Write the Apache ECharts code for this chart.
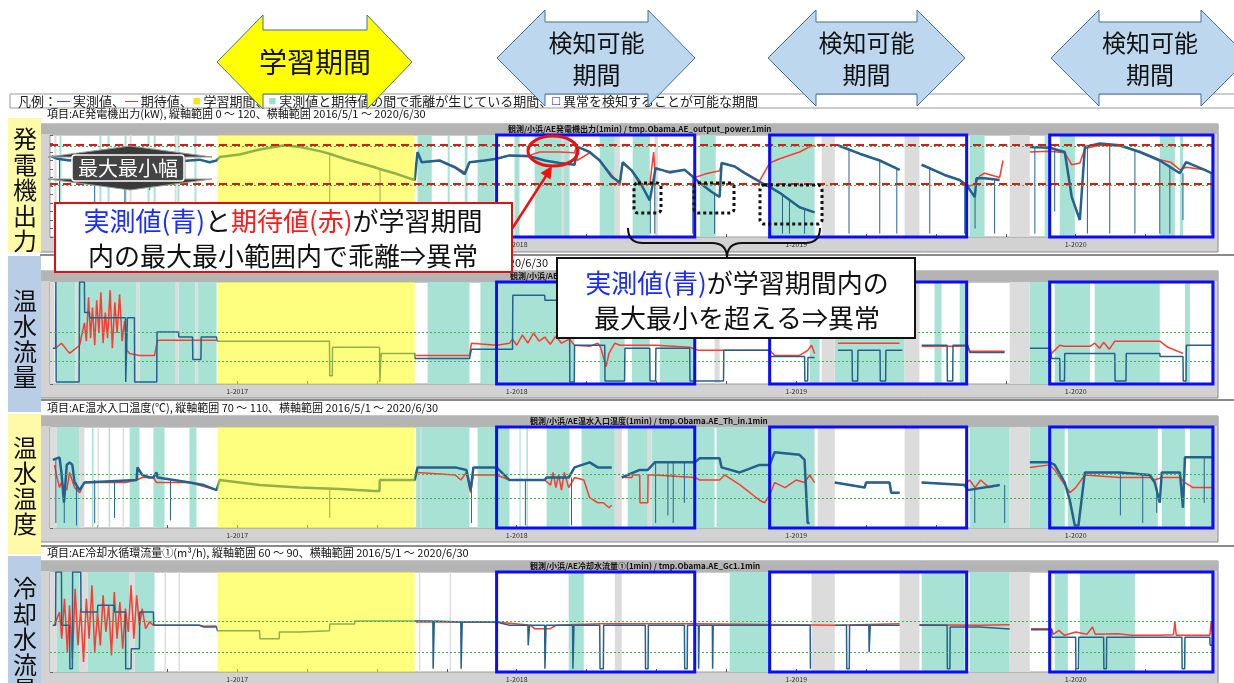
<!DOCTYPE html>
<html>
<head>
<meta charset="UTF-8">
<title>AE 異常検知</title>
<script src="https://cdn.jsdelivr.net/npm/echarts@6.0.0/dist/echarts.min.js"></script>
<style>
  html, body { margin: 0; padding: 0; background: #fff; }
  #chart { width: 1234px; height: 683px; }
</style>
</head>
<body>
<div id="chart"></div>
<script>
// x axis is in decimal years (2016/5/1 .. 2020/6/30)
var xMin = 2016.33, xMax = 2020.495;
var yearLabels = [2017, 2018, 2019, 2020];
var quarterTicks = [2016.5, 2016.75, 2017, 2017.25, 2017.5, 2017.75, 2018, 2018.25, 2018.5, 2018.75, 2019, 2019.25, 2019.5, 2019.75, 2020, 2020.25];
var learnPeriod = [2016.929, 2017.635];
var detectPeriods = [[2017.928, 2018.637], [2018.905, 2019.610], [2019.907, 2020.491]];

// ---- 発電機出力 (kW) 0-120
var powerActual = [
  [2016.335, 95], [2016.357, 92], [2016.400, 90], [2016.453, 93], [2016.489, 90], [2016.507, 91], [2016.579, 92], [2016.597, 90], [2016.650, 88], [2016.686, 89], [2016.722, 90], [2016.794, 89], [2016.865, 91], [2016.901, 88], [2016.926, 90],
  [2016.937, 94], [2017.008, 97], [2017.080, 103], [2017.169, 108], [2017.223, 106], [2017.295, 101], [2017.330, 98], [2017.384, 92], [2017.438, 87], [2017.492, 82], [2017.510, 80], [2017.563, 75], [2017.617, 69], [2017.635, 67],
  [2017.645, 100], [2017.660, 88], [2017.724, 90], [2017.778, 82], [2017.814, 74], [2017.831, 88], [2017.885, 90], [2017.928, 92], [2017.974, 96], [2018.046, 95], [2018.100, 90], [2018.153, 87], [2018.207, 85], [2018.218, 106], [2018.261, 100], [2018.297, 90], [2018.340, 71], [2018.369, 64], [2018.379, 88], [2018.412, 78], [2018.440, 65], [2018.476, 43], [2018.497, 81], [2018.547, 76], [2018.601, 79], [2018.637, 69], [2018.673, 59], [2018.698, 53], [2018.726, 47], [2018.733, 87], [2018.780, 83], [2018.816, 75], [2018.869, 65], [2018.905, 59], [2018.941, 52], [2019.012, 35], [2019.066, 29], [2019.077, '-'],
  [2019.149, 108], [2019.227, 98], [2019.299, 90], [2019.370, 79], [2019.380, '-'],
  [2019.449, 85], [2019.531, 73], [2019.585, 67], [2019.614, 59], [2019.639, 47], [2019.645, 69], [2019.674, 69], [2019.728, 67], [2019.746, '-'],
  [2019.836, 106], [2019.907, 105], [2019.961, 100], [2019.986, 47], [2020.015, 20], [2020.033, 106], [2020.086, 110], [2020.157, 108], [2020.229, 100], [2020.301, 90], [2020.373, 75], [2020.395, 88], [2020.462, 79], [2020.487, 75]
];
// thin vertical drops: [year, from, to]
var powerDrops = [
  [2016.364, 92, 6], [2016.490, 90, 10], [2016.598, 90, 30], [2016.687, 89, 55], [2017.331, 98, 4], [2017.511, 80, 40],
  [2018.478, 43, 4], [2018.494, 81, 4], [2018.630, 70, 4], [2018.708, 52, 4], [2018.951, 50, 4], [2018.976, 45, 4], [2019.030, 33, 4], [2019.189, 103, 4], [2019.299, 90, 4], [2019.360, 80, 4], [2019.478, 80, 4], [2019.603, 62, 4], [2019.640, 47, 10], [2019.710, 68, 4], [2019.854, 106, 4], [2019.925, 103, 30], [2020.042, 107, 4], [2020.122, 109, 4], [2020.212, 102, 4], [2020.301, 90, 4], [2020.337, 84, 4], [2020.384, 75, 20], [2020.484, 76, 4]
];
var powerExpected = [
  [2017.645, 99], [2017.660, 88], [2017.724, 90], [2017.778, 83], [2017.814, 76], [2017.831, 88], [2017.885, 90], [2017.928, 92], [2017.974, 96], [2018.046, 96], [2018.082, 100], [2018.153, 100], [2018.207, 99], [2018.214, 108], [2018.216, 90], [2018.261, 99], [2018.297, 90], [2018.340, 73], [2018.369, 61], [2018.379, 86], [2018.412, 78], [2018.440, 62], [2018.476, 62], [2018.490, 100], [2018.494, 80], [2018.547, 77], [2018.601, 79], [2018.637, 70], [2018.673, 74], [2018.698, 76], [2018.726, 78], [2018.733, 87], [2018.780, 83], [2018.816, 76], [2018.869, 66], [2018.905, 87], [2018.941, 92], [2019.012, 100], [2019.048, 106], [2019.066, 108], [2019.077, '-'],
  [2019.149, 107], [2019.227, 98], [2019.299, 90], [2019.370, 79], [2019.380, '-'],
  [2019.449, 85], [2019.531, 73], [2019.585, 67], [2019.621, 60], [2019.639, 62], [2019.657, 72], [2019.674, 75], [2019.728, 70], [2019.740, 90], [2019.746, '-'],
  [2019.836, 100], [2019.907, 101], [2019.961, 99], [2019.986, 85], [2020.015, 87], [2020.033, 104], [2020.086, 108], [2020.157, 107], [2020.229, 101], [2020.301, 91], [2020.340, 88], [2020.373, 79], [2020.395, 82], [2020.462, 79], [2020.487, 75]
];
var powerGreen = [[2016.364, 2016.371], [2016.507, 2016.514], [2016.536, 2016.543], [2016.597, 2016.604], [2016.679, 2016.686], [2016.701, 2016.708], [2016.786, 2016.793], [2016.847, 2016.854], [2017.645, 2017.696], [2017.753, 2017.760], [2017.814, 2017.824], [2017.860, 2017.921], [2017.992, 2018.010], [2018.064, 2018.189], [2018.297, 2018.351], [2018.415, 2018.476], [2018.655, 2018.712], [2018.905, 2019.066], [2019.621, 2019.674], [2019.889, 2019.907], [2019.943, 2019.997], [2020.301, 2020.355], [2020.373, 2020.384]];
var powerGray = [[2016.346, 2016.353], [2016.615, 2016.622], [2016.776, 2016.783], [2018.160, 2018.170], [2018.351, 2018.369], [2018.494, 2018.505], [2019.091, 2019.138], [2019.388, 2019.441], [2019.764, 2019.836]];
var powerLimits = [109, 62.5];
var powerGreenLines = [106.5, 61];

// ---- 温水流量
var flowActual = [
  [2016.340, 35], [2016.350, 35], [2016.351, 100], [2016.352, 2], [2016.434, 2], [2016.436, 100], [2016.453, 100], [2016.454, 70], [2016.471, 70], [2016.472, 65], [2016.600, 65], [2016.601, 2], [2016.606, 2], [2016.607, 65], [2016.632, 65], [2016.633, 2], [2016.712, 2], [2016.713, 51], [2016.790, 51], [2016.791, 46], [2016.840, 46], [2016.841, 24], [2016.870, 24], [2016.871, 46], [2016.926, 46],
  [2016.929, 42], [2017.330, 42], [2017.331, 8], [2017.340, 8], [2017.341, 36], [2017.509, 36], [2017.510, 2], [2017.514, 2], [2017.515, 30], [2017.635, 30],
  [2017.636, 25], [2017.831, 25], [2017.838, 34], [2017.985, 34], [2017.986, 87], [2018.100, 87], [2018.101, 82], [2018.189, 82], [2018.190, 2], [2018.206, 2], [2018.207, 38], [2018.315, 38], [2018.316, 3], [2018.386, 3], [2018.387, 35], [2018.476, 35], [2018.477, 3], [2018.497, 3], [2018.498, 35], [2018.619, 35], [2018.620, 3], [2018.740, 3], [2018.741, 33], [2018.905, 33], [2018.906, 27], [2019.030, 27], [2019.031, 3], [2019.041, 3], [2019.042, 26], [2019.066, 26], [2019.077, '-'],
  [2019.149, 33], [2019.200, 33], [2019.201, 3], [2019.220, 3], [2019.221, 33], [2019.300, 33], [2019.301, 3], [2019.320, 3], [2019.321, 33], [2019.380, 33], [2019.388, '-'],
  [2019.449, 38], [2019.540, 38], [2019.541, 3], [2019.560, 3], [2019.561, 38], [2019.614, 38], [2019.621, 31], [2019.746, 31], [2019.764, '-'],
  [2019.836, 35], [2019.910, 35], [2019.914, 25], [2019.943, 25], [2019.944, 3], [2019.960, 3], [2019.961, 30], [2020.140, 30], [2020.141, 3], [2020.180, 3], [2020.181, 30], [2020.301, 30], [2020.302, 27], [2020.384, 27], [2020.385, 3], [2020.395, 3], [2020.396, 38], [2020.490, 38]
];
var flowExpected = [
  [2016.350, 35], [2016.371, 40], [2016.400, 30], [2016.436, 38], [2016.453, 60], [2016.460, 42], [2016.468, 85], [2016.475, 45], [2016.482, 75], [2016.490, 38], [2016.497, 82], [2016.505, 50], [2016.512, 90], [2016.520, 40], [2016.528, 70], [2016.536, 45], [2016.545, 92], [2016.553, 35], [2016.562, 80], [2016.570, 50], [2016.579, 88], [2016.588, 42], [2016.597, 62], [2016.605, 33], [2016.615, 30], [2016.650, 28], [2016.704, 28], [2016.715, 43], [2016.926, 43], [2016.927, '-'],
  [2017.640, 28], [2017.831, 28], [2017.838, 40], [2017.928, 38], [2017.974, 40], [2017.985, 44], [2018.000, 38], [2018.020, 48], [2018.040, 40], [2018.060, 50], [2018.080, 42], [2018.100, 46], [2018.120, 39], [2018.140, 47], [2018.160, 40], [2018.189, 44], [2018.207, 38], [2018.261, 37], [2018.290, 40], [2018.300, 36], [2018.320, 17], [2018.330, 30], [2018.351, 40], [2018.370, 38], [2018.440, 38], [2018.500, 38], [2018.619, 36], [2018.650, 33], [2018.905, 33], [2018.923, 28], [2019.012, 28], [2019.041, 33], [2019.055, 38], [2019.066, 30], [2019.077, '-'],
  [2019.149, 40], [2019.370, 40], [2019.380, '-'],
  [2019.449, 37], [2019.614, 37], [2019.621, 32], [2019.746, 32], [2019.764, '-'],
  [2019.914, 30], [2019.943, 38], [2019.960, 37], [2020.051, 37], [2020.068, 40], [2020.086, 35], [2020.100, 41], [2020.120, 34], [2020.140, 42], [2020.301, 42], [2020.330, 36], [2020.384, 30]
];
var flowGreen = [[2016.353, 2016.420], [2016.430, 2016.640], [2016.650, 2016.780], [2016.790, 2016.850], [2016.860, 2016.926], [2017.681, 2017.831], [2017.870, 2017.928], [2017.935, 2018.207], [2018.297, 2018.386], [2018.412, 2018.476], [2018.512, 2018.637], [2019.048, 2019.084], [2019.138, 2019.388], [2019.495, 2019.520], [2019.585, 2019.610], [2019.836, 2019.907], [2019.925, 2020.051], [2020.068, 2020.301], [2020.391, 2020.409]];
var flowGray = [[2016.328, 2016.346], [2016.420, 2016.430], [2016.640, 2016.650], [2016.780, 2016.790], [2016.850, 2016.860], [2018.708, 2018.726], [2019.091, 2019.138], [2019.388, 2019.441], [2019.764, 2019.836]];
var flowGreenLines = [51, 22];

// ---- 温水入口温度 (℃) 70-110
var tempActual = [
  [2016.340, 97], [2016.364, 98], [2016.371, 92], [2016.380, 80], [2016.390, 95], [2016.400, 96], [2016.410, 95], [2016.418, 88], [2016.436, 85], [2016.453, 88], [2016.640, 89], [2016.643, 94], [2016.660, 91], [2016.686, 90], [2016.700, 90], [2016.711, 92], [2016.715, 90], [2016.830, 88], [2016.880, 87], [2016.926, 85],
  [2016.937, 89], [2017.080, 87], [2017.223, 86], [2017.367, 85.4], [2017.492, 84.7], [2017.509, 84.7], [2017.510, 89], [2017.635, 89],
  [2017.645, 94], [2017.780, 94], [2017.820, 93], [2017.835, 85], [2017.845, 94], [2017.928, 94], [2017.974, 89], [2018.100, 89], [2018.107, 90], [2018.186, 90], [2018.207, 94], [2018.261, 96], [2018.290, 94], [2018.340, 94], [2018.351, '-'],
  [2018.376, 90], [2018.440, 93], [2018.469, 93], [2018.494, 96], [2018.637, 96], [2018.655, 97.6], [2018.726, 97.6], [2018.733, 94], [2018.798, 92], [2018.869, 95], [2018.905, 95], [2018.923, 100], [2019.012, 99], [2019.030, 97], [2019.041, 72], [2019.048, 72], [2019.077, '-'],
  [2019.138, 88], [2019.245, 86], [2019.250, 88], [2019.334, 88], [2019.340, 84], [2019.370, 84], [2019.388, '-'],
  [2019.449, 88], [2019.603, 87], [2019.614, 85], [2019.728, 87], [2019.746, '-'],
  [2019.836, 96], [2019.907, 96], [2019.925, 95], [2019.961, 88], [2019.979, 81], [2019.997, 71], [2020.010, 71], [2020.033, 92], [2020.158, 92], [2020.265, 91], [2020.283, 88], [2020.301, 80], [2020.308, 92], [2020.373, 92], [2020.384, 78], [2020.391, 98], [2020.491, 98]
];
var tempDrops = [
  [2016.351, 97, 72], [2016.381, 80, 72], [2016.425, 88, 71], [2016.490, 89, 72], [2016.561, 89, 74], [2016.761, 89, 73], [2017.331, 86, 74], [2017.838, 88, 72], [2018.031, 89, 71], [2018.196, 90, 71], [2018.497, 96, 72], [2018.541, 96, 75], [2018.560, 96, 72], [2018.600, 96, 80], [2019.639, 86, 72], [2019.746, 87, 72], [2020.160, 92, 75], [2020.240, 91, 72], [2020.290, 86, 76], [2020.460, 98, 80]
];
var tempExpected = [
  [2016.346, 95], [2016.353, 91], [2016.364, 86], [2016.371, 88], [2016.390, 85], [2016.400, 92], [2016.418, 86], [2016.436, 84], [2016.453, 88], [2016.600, 88], [2016.640, 89], [2016.660, 90], [2016.700, 90], [2016.711, 88], [2016.830, 88], [2016.926, 85], [2016.927, '-'],
  [2017.645, 92], [2017.780, 91], [2017.800, 89], [2017.820, 92], [2017.835, 84], [2017.845, 91], [2017.928, 91], [2017.974, 89], [2018.100, 89], [2018.121, 87], [2018.130, 92], [2018.140, 86], [2018.150, 91], [2018.160, 85], [2018.170, 92], [2018.186, 86], [2018.207, 90], [2018.240, 89], [2018.261, 82], [2018.290, 80], [2018.310, 80], [2018.330, 78], [2018.340, 79], [2018.351, '-'],
  [2018.386, 90], [2018.412, 90], [2018.415, 91], [2018.440, 91], [2018.441, 80], [2018.469, 80], [2018.470, 91], [2018.494, 91], [2018.637, 90], [2018.655, 89], [2018.726, 89], [2018.744, 91], [2018.800, 87], [2018.869, 81], [2018.887, 80], [2018.905, 83], [2018.923, 88], [2018.960, 86], [2019.000, 89], [2019.030, 88], [2019.048, 91], [2019.066, 88], [2019.077, '-'],
  [2019.138, 88], [2019.245, 86], [2019.250, 88], [2019.334, 88], [2019.340, 84], [2019.370, 84], [2019.388, '-'],
  [2019.449, 88], [2019.603, 87], [2019.620, 89], [2019.640, 86], [2019.660, 89], [2019.690, 86], [2019.728, 87], [2019.746, '-'],
  [2019.836, 94], [2019.907, 95], [2019.925, 93], [2019.961, 87], [2019.980, 84], [2020.000, 86], [2020.033, 91], [2020.158, 90], [2020.265, 90], [2020.283, 89], [2020.308, 90], [2020.373, 90], [2020.391, 88], [2020.420, 86], [2020.491, 86]
];
var tempGreen = [[2016.353, 2016.436], [2016.480, 2016.486], [2016.540, 2016.545], [2016.615, 2016.650], [2016.700, 2016.740], [2016.829, 2016.854], [2017.640, 2017.831], [2017.860, 2017.974], [2018.010, 2018.014], [2018.035, 2018.040], [2018.107, 2018.189], [2018.232, 2018.351], [2018.397, 2018.469], [2018.483, 2018.708], [2018.715, 2019.066], [2019.621, 2019.764], [2019.836, 2019.961], [2019.972, 2020.294], [2020.308, 2020.391], [2020.409, 2020.491]];
var tempGray = [[2016.328, 2016.353], [2016.436, 2016.453], [2016.500, 2016.505], [2016.590, 2016.595], [2017.655, 2017.660], [2018.351, 2018.376], [2018.469, 2018.483], [2019.077, 2019.138], [2019.388, 2019.441], [2019.764, 2019.836]];
var tempGreenLines = [91.4, 81.9];

// ---- 冷却水循環流量① (m3/h) 60-90
var coolActual = [
  [2016.340, 74], [2016.350, 74], [2016.351, 90], [2016.371, 90], [2016.372, 74], [2016.400, 74], [2016.401, 61], [2016.410, 61], [2016.411, 90], [2016.440, 90], [2016.441, 78], [2016.500, 78], [2016.501, 80], [2016.560, 80], [2016.561, 78], [2016.600, 78], [2016.601, 61], [2016.620, 61], [2016.621, 67], [2016.650, 67], [2016.651, 78], [2016.700, 78], [2016.701, 74], [2016.865, 74], [2016.880, 73.5], [2016.926, 73.5],
  [2016.929, 72.4], [2017.080, 72.4], [2017.081, 70], [2017.150, 70], [2017.151, 72], [2017.223, 72], [2017.224, 72.4], [2017.330, 72.4], [2017.331, 74.4], [2017.420, 74.4], [2017.421, 75.3], [2017.635, 75.3],
  [2017.640, 75.3], [2017.700, 75.3], [2017.701, 61], [2017.705, 75.3], [2017.800, 75], [2017.801, 61], [2017.805, 75], [2017.928, 75], [2017.974, 74], [2018.040, 74], [2018.041, 68], [2018.046, 74], [2018.100, 74], [2018.101, 61], [2018.105, 74], [2018.200, 74], [2018.201, 61], [2018.205, 74], [2018.297, 74], [2018.298, 61], [2018.310, 61], [2018.311, 74], [2018.460, 74], [2018.461, 61], [2018.470, 61], [2018.471, 74], [2018.600, 74], [2018.601, 61], [2018.610, 61], [2018.611, 74], [2018.650, 74], [2018.651, 61], [2018.653, 74], [2018.700, 74], [2018.701, 61], [2018.703, 74], [2019.050, 74], [2019.051, 61], [2019.084, '-'],
  [2019.140, 74], [2019.180, 74], [2019.181, 61], [2019.190, 61], [2019.191, 74], [2019.260, 74], [2019.261, 66], [2019.265, 74], [2019.370, 74], [2019.388, '-'],
  [2019.441, 74], [2019.540, 74], [2019.541, 61], [2019.550, 61], [2019.551, 73.5], [2019.657, 73.5], [2019.658, 72.9], [2019.764, 72.9], [2019.765, '-'],
  [2019.840, 72.7], [2019.914, 72.7], [2019.915, 70.4], [2020.000, 70.4], [2020.001, 61], [2020.010, 61], [2020.011, 70.4], [2020.100, 70.4], [2020.101, 61], [2020.110, 61], [2020.111, 70.4], [2020.380, 70.4], [2020.381, 61], [2020.390, 61], [2020.391, 70.4], [2020.480, 70.4], [2020.481, 68], [2020.491, 68]
];
var coolExpected = [
  [2016.346, 74], [2016.364, 78], [2016.372, 70], [2016.382, 82], [2016.392, 66], [2016.400, 80], [2016.410, 64], [2016.420, 85], [2016.430, 68], [2016.440, 79], [2016.450, 63], [2016.460, 82], [2016.470, 70], [2016.480, 86], [2016.490, 66], [2016.500, 78], [2016.510, 68], [2016.520, 83], [2016.530, 72], [2016.540, 80], [2016.550, 65], [2016.560, 84], [2016.570, 70], [2016.580, 81], [2016.590, 67], [2016.600, 79], [2016.610, 72], [2016.620, 86], [2016.630, 70], [2016.640, 83], [2016.650, 74], [2016.660, 79], [2016.672, 73], [2016.686, 75], [2016.700, 74], [2016.865, 74], [2016.880, 73.7], [2016.926, 73.8], [2016.927, '-'],
  [2017.640, 75], [2017.928, 75], [2018.050, 74], [2018.064, 73], [2018.120, 73], [2018.140, 74], [2018.300, 74.5], [2018.637, 74.5], [2019.149, 74], [2019.370, 74.5], [2019.388, '-'],
  [2019.441, 74.2], [2019.657, 74], [2019.764, 74.2], [2019.765, '-'],
  [2019.840, 73], [2019.914, 73], [2019.920, 71.3], [2019.940, 72.5], [2019.960, 71], [2020.000, 72], [2020.040, 71.3], [2020.060, 73.5], [2020.070, 71.3], [2020.150, 71.5], [2020.200, 71], [2020.300, 71], [2020.350, 71.2], [2020.355, 75], [2020.360, 71], [2020.480, 71], [2020.485, 75], [2020.491, 71]
];
var coolGreen = [[2016.353, 2016.436], [2016.464, 2016.615], [2016.632, 2016.704], [2018.186, 2018.240], [2018.762, 2018.905], [2019.449, 2019.603], [2019.621, 2019.764], [2019.925, 2019.972], [2020.015, 2020.212]];
var coolGray = [[2016.328, 2016.353], [2016.436, 2016.464], [2016.615, 2016.632], [2016.740, 2016.745], [2016.790, 2016.795], [2017.650, 2017.655], [2017.760, 2017.765], [2018.351, 2018.376], [2019.055, 2019.138], [2019.370, 2019.441], [2019.764, 2019.836]];
var coolGreenLines = [75.3, 65.8];

var GREEN = '#a8e2d4', GRAY = '#dcdcdc', BLUE = '#24628e', RED = '#ff3a2e';
var JP = '"Noto Sans CJK JP", sans-serif';

var panels = [
  { top: 135, height: 102, min: 0, max: 120, actual: powerActual, drops: powerDrops, expected: powerExpected, green: powerGreen, gray: powerGray, redLines: powerLimits, greenLines: powerGreenLines, lw: 2.5 },
  { top: 282, height: 102, min: 0, max: 100, actual: flowActual, drops: [], expected: flowExpected, green: flowGreen, gray: flowGray, redLines: [], greenLines: flowGreenLines, lw: 1.5 },
  { top: 427, height: 101, min: 70, max: 110, actual: tempActual, drops: tempDrops, expected: tempExpected, green: tempGreen, gray: tempGray, redLines: [], greenLines: tempGreenLines, lw: 2.5 },
  { top: 572, height: 104, min: 60, max: 90, actual: coolActual, drops: [], expected: coolExpected, green: coolGreen, gray: coolGray, redLines: [], greenLines: coolGreenLines, lw: 1.5 }
];

function bandItems(list, color) {
  return list.map(function (b) { return [{ xAxis: b[0], itemStyle: { color: color } }, { xAxis: b[1] }]; });
}
function dropData(list) {
  var out = [];
  list.forEach(function (d) { out.push([d[0], d[1]], [d[0], d[2]], [d[0], '-']); });
  return out;
}

var grids = [], xAxes = [], yAxes = [], series = [];
panels.forEach(function (p, i) {
  grids.push({ left: 50, right: 20, top: p.top, height: p.height, show: true, backgroundColor: '#fff', borderColor: '#9a9a9a', borderWidth: 1 });
  xAxes.push({
    type: 'value', gridIndex: i, min: xMin, max: xMax,
    axisLine: { show: false }, splitLine: { show: false },
    axisTick: { show: true, inside: true, length: 3, customValues: quarterTicks, lineStyle: { color: '#555' } },
    axisLabel: { customValues: yearLabels, formatter: function (v) { return '1-' + Math.round(v); }, fontSize: 7, color: '#333', margin: 4 }
  });
  yAxes.push({
    type: 'value', gridIndex: i, min: p.min, max: p.max, splitNumber: 10,
    axisLine: { show: false }, axisLabel: { show: false }, splitLine: { show: false },
    axisTick: { show: true, inside: true, length: 3, lineStyle: { color: '#666' } }
  });
  series.push({
    type: 'line', xAxisIndex: i, yAxisIndex: i, data: [], silent: true,
    markArea: { z: 1, silent: true, data: bandItems(p.green, GREEN).concat(bandItems(p.gray, GRAY)) }
  });
  series.push({
    name: '期待値', type: 'line', xAxisIndex: i, yAxisIndex: i, data: p.expected, z: 2,
    showSymbol: false, lineStyle: { color: RED, width: 1.5 }
  });
  series.push({
    name: '実測値', type: 'line', xAxisIndex: i, yAxisIndex: i, data: p.actual, z: 3,
    showSymbol: false, lineStyle: { color: BLUE, width: p.lw }
  });
  series.push({
    type: 'line', xAxisIndex: i, yAxisIndex: i, data: dropData(p.drops), z: 3,
    showSymbol: false, silent: true, lineStyle: { color: BLUE, width: 1 }
  });
  series.push({
    type: 'line', xAxisIndex: i, yAxisIndex: i, data: [], silent: true,
    markArea: { z: 6, silent: true, data: [[{ xAxis: learnPeriod[0], itemStyle: { color: 'rgba(255,255,0,0.5)' } }, { xAxis: learnPeriod[1] }]] }
  });
  var lines = p.greenLines.map(function (v) {
    return { yAxis: v, lineStyle: { color: '#3fb34f', type: [2, 2], width: 1 } };
  }).concat(p.redLines.map(function (v) {
    return { yAxis: v, lineStyle: { color: '#d81b1b', type: [8, 5], width: 2 } };
  }));
  series.push({
    type: 'line', xAxisIndex: i, yAxisIndex: i, data: [], silent: true,
    markLine: { z: 7, silent: true, symbol: 'none', label: { show: false }, data: lines },
    markArea: { z: 8, silent: true, data: detectPeriods.map(function (d) {
      return [{ xAxis: d[0], itemStyle: { color: 'rgba(0,0,0,0)', borderColor: '#0b0bff', borderWidth: 3 } }, { xAxis: d[1] }];
    }) }
  });
});

// ---- page furniture
var g = [];
function txt(x, y, s, size, opt) {
  var st = { x: x, y: y, text: s, fontSize: size, fontFamily: JP, fill: '#111', align: 'left', verticalAlign: 'middle' };
  for (var k in (opt || {})) st[k] = opt[k];
  return { type: 'text', z: 20, style: st };
}

// legend row
g.push({ type: 'rect', z: 10, shape: { x: 10, y: 94, width: 1240, height: 14 }, style: { fill: '#fff', stroke: '#999', lineWidth: 1 } });
g.push(txt(18, 101, '凡例：{b|—} 実測値、{r|—} 期待値、{y|■} 学習期間、{g|■} 実測値と期待値の間で乖離が生じている期間、{bx|□} 異常を検知することが可能な期間', 13, {
  fill: '#222',
  rich: { b: { fill: '#2040c0', fontSize: 13 }, r: { fill: '#e02020', fontSize: 13 }, y: { fill: '#f5e600', fontSize: 13 }, g: { fill: '#9fe0c8', fontSize: 13 }, bx: { fill: '#0000ee', fontSize: 13, fontWeight: 'bold' } }
}));

// side labels
var sideBoxes = [
  { y: 118, h: 134, c: '#fffaa8', t: '発\n電\n機\n出\n力', cy: 190 },
  { y: 256, h: 156, c: '#b9cde6', t: '温\n水\n流\n量', cy: 339 },
  { y: 414, h: 140, c: '#fffaa8', t: '温\n水\n温\n度', cy: 486 },
  { y: 556, h: 140, c: '#b9cde6', t: '冷\n却\n水\n流\n量', cy: 639 }
];
sideBoxes.forEach(function (b) {
  g.push({ type: 'rect', z: 10, shape: { x: 8, y: b.y, width: 33, height: b.h }, style: { fill: b.c } });
  g.push({ type: 'text', z: 11, style: { x: 25, y: b.cy, text: b.t, fontSize: 24, lineHeight: 25.5, fontFamily: JP, fill: '#111', align: 'center', verticalAlign: 'middle' } });
});

// panel frames
var frames = [
  { top: 124, bottom: 252, title: '観測/小浜/AE発電機出力(1min) / tmp.Obama.AE_output_power.1min', tx: 508 },
  { top: 271, bottom: 398, title: '観測/小浜/AE温水流量(1min) / tmp.Obama.AE_Gw.1min', tx: 510 },
  { top: 416, bottom: 542, title: '観測/小浜/AE温水入口温度(1min) / tmp.Obama.AE_Th_in.1min', tx: 530 },
  { top: 561, bottom: 690, title: '観測/小浜/AE冷却水流量①(1min) / tmp.Obama.AE_Gc1.1min', tx: 530 }
];
frames.forEach(function (f) {
  g.push({ type: 'rect', z: -10, shape: { x: 40, y: f.top, width: 1178, height: f.bottom - f.top }, style: { fill: '#d2d2d2', stroke: '#8a8a8a', lineWidth: 1 } });
  g.push({ type: 'rect', z: -9, shape: { x: 40, y: f.top, width: 1178, height: 10 }, style: { fill: '#b4b4b4' } });
  g.push({ type: 'text', z: 1, style: { x: f.tx, y: f.top + 5, text: f.title, fontSize: 8, fontWeight: 'bold', fontFamily: JP, fill: '#111', align: 'left', verticalAlign: 'middle' } });
});
[255, 400, 546].forEach(function (y) {
  g.push({ type: 'line', z: 1, shape: { x1: 40, y1: y, x2: 1234, y2: y }, style: { stroke: '#8a8a8a', lineWidth: 2 } });
});

// headers
g.push(txt(47, 114, '項目:AE発電機出力(kW), 縦軸範囲 0 〜 120、横軸範囲 2016/5/1 〜 2020/6/30', 11));
g.push(txt(548, 263, '項目:AE温水流量(m³/h), 縦軸範囲 0 〜 50、横軸範囲 2016/5/1 〜 2020/6/30', 11, { align: 'right' }));
g.push(txt(47, 408, '項目:AE温水入口温度(℃), 縦軸範囲 70 〜 110、横軸範囲 2016/5/1 〜 2020/6/30', 11));
g.push(txt(47, 553, '項目:AE冷却水循環流量①(m³/h), 縦軸範囲 60 〜 90、横軸範囲 2016/5/1 〜 2020/6/30', 11));

// top arrows
function lrArrow(x0, x1, c0, c1, headTop, shaftTop, tipY, shaftBot, headBot) {
  return [[x0, tipY], [c0, headTop], [c0, shaftTop], [c1, shaftTop], [c1, headTop], [x1, tipY], [c1, headBot], [c1, shaftBot], [c0, shaftBot], [c0, headBot]];
}
g.push({ type: 'polygon', z: 30, shape: { points: lrArrow(217, 412, 263, 367, 15, 30, 62, 94, 109) }, style: { fill: '#ffff00', stroke: '#41719c', lineWidth: 1 } });
g.push({ type: 'text', z: 31, style: { x: 315, y: 62, text: '学習期間', fontSize: 28, fontFamily: JP, fill: '#111', align: 'center', verticalAlign: 'middle' } });
[[497, 695, 545, 648], [768, 965, 816, 917], [1051, 1249, 1099, 1201]].forEach(function (a) {
  g.push({ type: 'polygon', z: 30, shape: { points: lrArrow(a[0], a[1], a[2], a[3], 10, 22, 58, 94, 106) }, style: { fill: '#bdd7ee', stroke: '#41719c', lineWidth: 1 } });
  g.push({ type: 'text', z: 31, style: { x: (a[2] + a[3]) / 2, y: 59, text: '検知可能\n期間', fontSize: 24, lineHeight: 32, fontFamily: JP, fill: '#111', align: 'center', verticalAlign: 'middle' } });
});

// 最大最小幅 marker
g.push({ type: 'polygon', z: 40, shape: { points: [[130, 146], [212, 157], [185, 157], [185, 179], [212, 179], [130, 190], [48, 179], [75, 179], [75, 157], [48, 157]] }, style: { fill: '#3a3a3a', stroke: '#999', lineWidth: 1 } });
g.push({ type: 'rect', z: 41, shape: { x: 72, y: 155, width: 112, height: 26, r: 3 }, style: { fill: '#444', stroke: '#fff', lineWidth: 1.5 } });
g.push({ type: 'text', z: 42, style: { x: 128, y: 168, text: '最大最小幅', fontSize: 20, fontFamily: JP, fill: '#fff', align: 'center', verticalAlign: 'middle' } });

// dotted boxes
[[634, 183, 27, 30], [694, 183, 40, 30], [760, 185, 62, 39]].forEach(function (r) {
  g.push({ type: 'rect', z: 40, shape: { x: r[0], y: r[1], width: r[2], height: r[3], r: 4 }, style: { fill: 'none', stroke: '#111', lineWidth: 3, lineDash: [3, 3] } });
});

// red circle + arrow
g.push({ type: 'ellipse', z: 40, shape: { cx: 553, cy: 151, rx: 25, ry: 15 }, style: { fill: 'none', stroke: '#ee1111', lineWidth: 3 } });
g.push({ type: 'line', z: 40, shape: { x1: 510, y1: 232, x2: 546, y2: 176 }, style: { stroke: '#ee1111', lineWidth: 2.5 } });
g.push({ type: 'polygon', z: 40, shape: { points: [[552, 166], [550.5, 179.4], [540.5, 172.9]] }, style: { fill: '#ee1111' } });

// callout 1
g.push({ type: 'rect', z: 45, shape: { x: 55, y: 203, width: 457, height: 69 }, style: { fill: '#fff', stroke: '#e01010', lineWidth: 2 } });
g.push({ type: 'text', z: 46, style: { x: 283, y: 221, text: '{b|実測値(青)}と{r|期待値(赤)}が学習期間', fontSize: 26, fontFamily: JP, fill: '#111', align: 'center', verticalAlign: 'middle',
  rich: { b: { fill: '#1a2cff', fontSize: 26, fontFamily: JP }, r: { fill: '#ff1a1a', fontSize: 26, fontFamily: JP } } } });
g.push({ type: 'text', z: 46, style: { x: 283, y: 256, text: '内の最大最小範囲内で乖離⇒異常', fontSize: 26, fontFamily: JP, fill: '#111', align: 'center', verticalAlign: 'middle' } });

// brace + callout 2
var brace = [
  { x1: 628, y1: 228, x2: 643, y2: 243, cpx1: 628, cpy1: 243 },
  { x1: 712, y1: 243, x2: 727, y2: 258, cpx1: 727, cpy1: 243 },
  { x1: 742, y1: 243, x2: 727, y2: 258, cpx1: 727, cpy1: 243 },
  { x1: 805, y1: 243, x2: 820, y2: 228, cpx1: 820, cpy1: 243 }
];
brace.forEach(function (b) {
  g.push({ type: 'bezierCurve', z: 40, shape: b, style: { fill: 'none', stroke: '#111', lineWidth: 2 } });
});
g.push({ type: 'line', z: 40, shape: { x1: 643, y1: 243, x2: 712, y2: 243 }, style: { stroke: '#111', lineWidth: 2 } });
g.push({ type: 'line', z: 40, shape: { x1: 742, y1: 243, x2: 805, y2: 243 }, style: { stroke: '#111', lineWidth: 2 } });
g.push({ type: 'rect', z: 45, shape: { x: 557, y: 258, width: 358, height: 80 }, style: { fill: '#fff', stroke: '#111', lineWidth: 2 } });
g.push({ type: 'text', z: 46, style: { x: 737, y: 283, text: '{b|実測値(青)}が学習期間内の', fontSize: 26, fontFamily: JP, fill: '#111', align: 'center', verticalAlign: 'middle',
  rich: { b: { fill: '#1a2cff', fontSize: 26, fontFamily: JP } } } });
g.push({ type: 'text', z: 46, style: { x: 737, y: 318, text: '最大最小を超える⇒異常', fontSize: 26, fontFamily: JP, fill: '#111', align: 'center', verticalAlign: 'middle' } });

var chart = echarts.init(document.getElementById('chart'));
chart.setOption({
  animation: false,
  backgroundColor: '#fff',
  textStyle: { fontFamily: JP },
  grid: grids,
  xAxis: xAxes,
  yAxis: yAxes,
  series: series,
  graphic: { elements: g }
});
</script>
</body>
</html>
